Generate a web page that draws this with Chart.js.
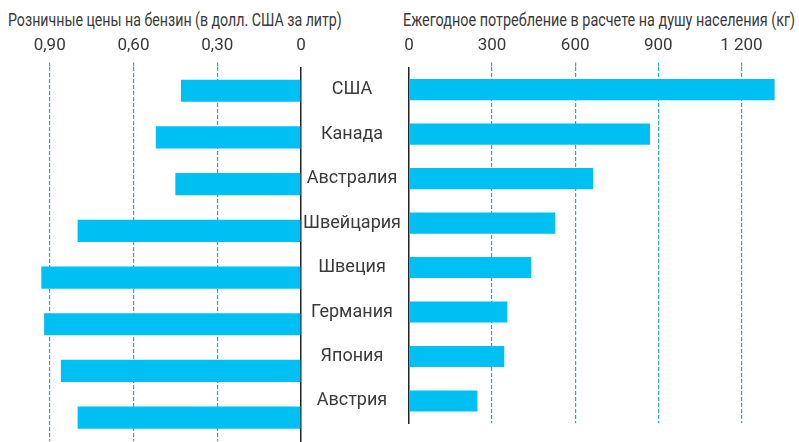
<!DOCTYPE html>
<html>
<head>
<meta charset="utf-8">
<script src="https://cdn.jsdelivr.net/npm/chart.js@4"></script>
<style>
  html, body { margin: 0; padding: 0; background: #fff; }
  #wrap { position: relative; width: 799px; height: 442px; overflow: hidden; }
  .ttl { position: absolute; top: 10px; font: 18px Roboto, sans-serif; color: #3a3a3a; white-space: nowrap; line-height: 20px; transform-origin: 0 0; }
  #left-box { position: absolute; left: 0; top: 0; width: 312px; height: 442px; }
  #right-box { position: absolute; left: 302px; top: 0; width: 497px; height: 442px; }
</style>
</head>
<body>
<div id="wrap">
  <div class="ttl" id="left-title" style="left:8px" data-w="334">Розничные цены на бензин (в долл. США за литр)</div>
  <div class="ttl" id="right-title" style="left:403px" data-w="392">Ежегодное потребление в расчете на душу населения (кг)</div>
  <div id="left-box"><canvas id="left-chart"></canvas></div>
  <div id="right-box"><canvas id="right-chart"></canvas></div>
</div>
<script>
// ── Data ────────────────────────────────────────────────────
const countries = ['США', 'Канада', 'Австралия', 'Швейцария', 'Швеция', 'Германия', 'Япония', 'Австрия'];
const gasPrice = [0.43, 0.52, 0.45, 0.80, 0.93, 0.92, 0.86, 0.80];       // долл. США за литр
const consumption = [1320, 870, 665, 528, 441, 355, 344, 247];           // кг на душу населения
const priceTicks = [0, 0.3, 0.6, 0.9];
const priceTickLabels = ['0', '0,30', '0,60', '0,90'];
const consTicks = [0, 300, 600, 900, 1200];
const consTickLabels = ['0', '300', '600', '900', '1 200'];

const BAR = '#00bff3';
const GRID = '#26aae1';
const TEXT = '#3a3a3a';

Chart.defaults.font.family = 'Roboto, sans-serif';
Chart.defaults.font.size = 18;
Chart.defaults.color = TEXT;
Chart.defaults.animation = false;

// squeeze the titles to the narrow width of the original face
document.querySelectorAll('.ttl').forEach(el => {
  el.style.transform = 'scaleX(' + (el.dataset.w / el.offsetWidth) + ')';
});

function xAxis(ticks, labels, opts) {
  return Object.assign({
    position: 'top',
    min: 0,
    afterBuildTicks: s => { s.ticks = ticks.map(v => ({ value: v })); },
    ticks: {
      padding: 6,
      maxRotation: 0,
      autoSkip: false,
      font: { size: 17 },
      callback: v => labels[ticks.indexOf(v)]
    },
    grid: {
      color: c => c.tick && c.tick.value === 0 ? 'transparent' : GRID,
      tickColor: c => c.tick && c.tick.value === 0 ? 'transparent' : GRID,
      lineWidth: 1.2,
      tickWidth: 1.2,
      tickLength: 5,
      tickBorderDash: [4, 2]
    },
    border: { display: false, dash: [4, 2] }
  }, opts);
}

// ── Left: prices (reversed axis) ───────────────────────────
new Chart(document.getElementById('left-chart'), {
  type: 'bar',
  data: {
    labels: countries,
    datasets: [{ data: gasPrice, backgroundColor: BAR, barPercentage: 1, categoryPercentage: 0.475 }]
  },
  options: {
    indexAxis: 'y',
    responsive: true,
    maintainAspectRatio: false,
    layout: { padding: { top: 30, bottom: 1, left: 0, right: 11 } },
    plugins: { legend: { display: false }, tooltip: { enabled: false } },
    scales: {
      x: xAxis(priceTicks, priceTickLabels, { reverse: true, max: 1.078 }),
      y: {
        position: 'right',
        ticks: { display: false },
        grid: { display: false, drawTicks: false },
        border: { display: true, color: '#222', width: 1.5 },
        afterFit: s => { s.width = 0; }
      }
    }
  }
});

// ── Right: consumption ──────────────────────────────────────
new Chart(document.getElementById('right-chart'), {
  type: 'bar',
  data: {
    labels: countries,
    datasets: [{ data: consumption, backgroundColor: BAR, barPercentage: 1, categoryPercentage: 0.475 }]
  },
  options: {
    indexAxis: 'y',
    responsive: true,
    maintainAspectRatio: false,
    layout: { padding: { top: 30, bottom: 1, left: 0, right: 0 } },
    plugins: { legend: { display: false }, tooltip: { enabled: false } },
    scales: {
      x: xAxis(consTicks, consTickLabels, { max: 1408 }),
      y: {
        position: 'left',
        ticks: { crossAlign: 'center', padding: 8, color: TEXT },
        grid: { display: false, drawTicks: false },
        border: { display: true, color: '#222', width: 1.5 },
        afterFit: s => { s.width = 107; }
      }
    }
  }
});
</script>
</body>
</html>
